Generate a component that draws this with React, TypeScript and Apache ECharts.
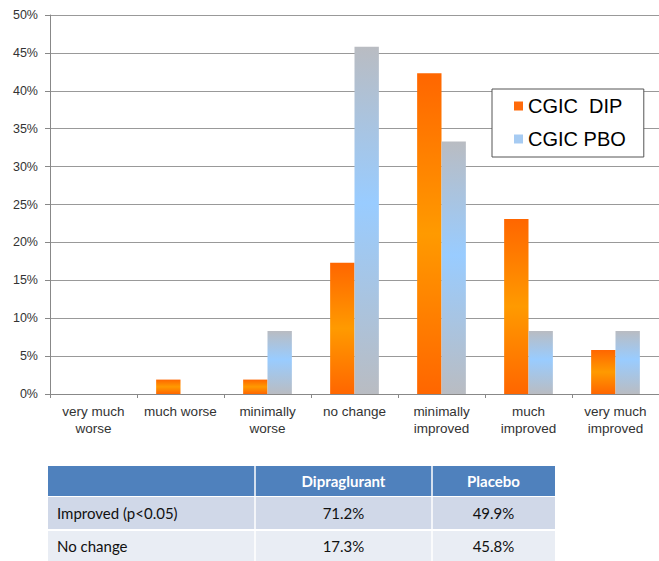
import React, { useEffect, useRef } from "react";
import * as echarts from "echarts";

const categories = [
  "very much\nworse",
  "much worse",
  "minimally\nworse",
  "no change",
  "minimally\nimproved",
  "much\nimproved",
  "very much\nimproved",
];
const dipValues = [0, 1.9, 1.9, 17.3, 42.3, 23.1, 5.8];
const pboValues = [0, 0, 8.3, 45.8, 33.3, 8.3, 8.3];
const seriesNames = ["CGIC  DIP", "CGIC PBO"];

const tableHeader = ["", "Dipraglurant", "Placebo"];
const tableRows = [
  ["Improved (p<0.05)", "71.2%", "49.9%"],
  ["No change", "17.3%", "45.8%"],
];

const FONT = "'Liberation Sans', Arial, Helvetica, sans-serif";
const TFONT = "Lato, 'Open Sans', sans-serif";

function buildTable() {
  const left = 48;
  const right = 555;
  const colX = [48, 255, 432, 555];
  const rowTops = [466, 497, 531];
  const rowHeights = [30, 32, 30];
  const rowFills = ["#4F81BD", "#D0D8E8", "#E9EDF4"];
  const els: any[] = [];
  for (let r = 0; r < 3; r++) {
    els.push({
      type: "rect",
      shape: { x: left, y: rowTops[r], width: right - left, height: rowHeights[r] },
      style: { fill: rowFills[r] },
      silent: true,
    });
  }
  for (const x of [colX[1], colX[2]]) {
    els.push({
      type: "line",
      shape: { x1: x, y1: 466, x2: x, y2: 561 },
      style: { stroke: "#FFFFFF", lineWidth: 1.5 },
      silent: true,
    });
  }
  const rows = [tableHeader, ...tableRows];
  rows.forEach((row, r) => {
    row.forEach((txt, c) => {
      if (!txt) return;
      const cy = rowTops[r] + rowHeights[r] / 2;
      const isFirst = c === 0;
      els.push({
        type: "text",
        x: isFirst ? colX[0] + 9 : (colX[c] + colX[c + 1]) / 2,
        y: cy,
        style: {
          text: txt,
          fill: r === 0 ? "#FFFFFF" : "#111111",
          font: `${r === 0 ? "bold " : ""}15px ${TFONT}`,
          align: isFirst ? "left" : "center",
          verticalAlign: "middle",
        },
        silent: true,
      });
    });
  });
  return els;
}

export default function App() {
  const ref = useRef<HTMLDivElement>(null);
  useEffect(() => {
    if (!ref.current) return;
    const chart = echarts.init(ref.current, null, { renderer: "svg" });
    const orangeGrad = new echarts.graphic.LinearGradient(0, 0, 0, 1, [
      { offset: 0, color: "#FF6600" },
      { offset: 0.5, color: "#FF9A00" },
      { offset: 1, color: "#FF6600" },
    ]);
    const blueGrad = new echarts.graphic.LinearGradient(0, 0, 0, 1, [
      { offset: 0, color: "#B9BCC2" },
      { offset: 0.45, color: "#99CCFF" },
      { offset: 1, color: "#B9BCC2" },
    ]);
    chart.setOption({
      animation: false,
      backgroundColor: "#FFFFFF",
      textStyle: { fontFamily: FONT },
      grid: { left: 50, top: 15, width: 614, height: 379, containLabel: false },
      legend: {
        orient: "vertical",
        left: 492,
        top: 89,
        data: [
          { name: seriesNames[0], itemStyle: { color: "#FF6A0A" } },
          { name: seriesNames[1], itemStyle: { color: "#A6CBF2" } },
        ],
        icon: "rect",
        itemWidth: 9,
        itemHeight: 9,
        itemGap: 13,
        padding: [7, 18, 8, 22],
        borderColor: "#555555",
        borderWidth: 1,
        backgroundColor: "#FFFFFF",
        textStyle: { fontSize: 20, color: "#000000", fontFamily: FONT },
      },
      xAxis: {
        type: "category",
        data: categories,
        axisLine: { lineStyle: { color: "#888888", width: 1 } },
        axisTick: { show: true, length: 4, lineStyle: { color: "#888888" } },
        axisLabel: {
          fontSize: 13.5,
          color: "#333333",
          lineHeight: 17,
          margin: 9,
          interval: 0,
          fontFamily: FONT,
        },
      },
      yAxis: {
        type: "value",
        min: 0,
        max: 50,
        interval: 5,
        axisLine: { show: true, lineStyle: { color: "#888888", width: 1 } },
        axisTick: { show: true, length: 5, lineStyle: { color: "#888888" } },
        axisLabel: {
          formatter: "{value}%",
          fontSize: 12.5,
          color: "#333333",
          margin: 12,
          fontFamily: FONT,
        },
        splitLine: { show: true, lineStyle: { color: "#999999", width: 1 } },
      },
      series: [
        {
          name: seriesNames[0],
          type: "bar",
          data: dipValues,
          barGap: "0%",
          barCategoryGap: "44%",
          itemStyle: { color: orangeGrad },
        },
        {
          name: seriesNames[1],
          type: "bar",
          data: pboValues,
          barGap: "0%",
          barCategoryGap: "44%",
          itemStyle: { color: blueGrad },
        },
      ],
      graphic: buildTable(),
    });
    return () => chart.dispose();
  }, []);
  return (
    <div
      ref={ref}
      style={{ position: "absolute", left: 0, top: 0, width: 659, height: 561, background: "#fff" }}
    />
  );
}
